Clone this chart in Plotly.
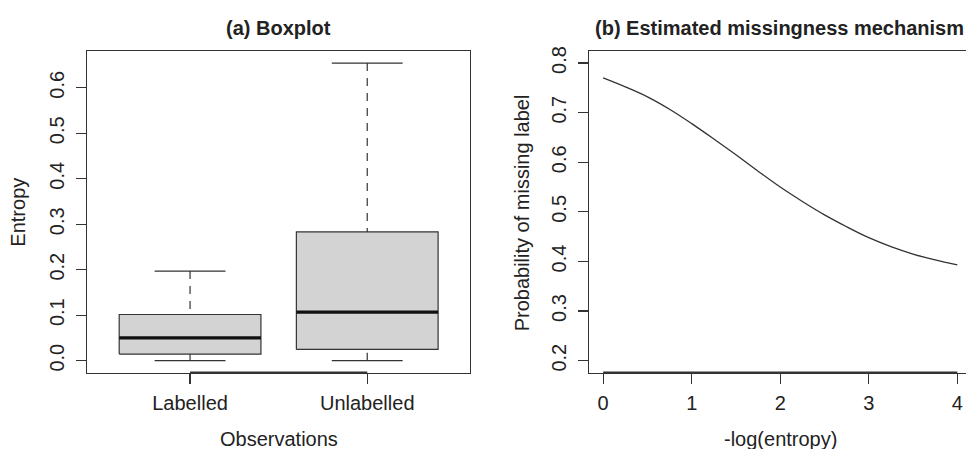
import plotly.graph_objects as go

# ---------------- data ----------------
categories = ["Labelled", "Unlabelled"]
lower_whisker = [0.0, 0.0]
q1 = [0.0145, 0.0246]
median = [0.050, 0.1066]
q3 = [0.1015, 0.283]
upper_whisker = [0.197, 0.6544]

neg_log_entropy = [0, 0.25, 0.5, 0.75, 1.0, 1.25, 1.5, 1.75, 2.0, 2.25, 2.5, 2.75,
                   3.0, 3.25, 3.5, 3.75, 4.0]
prob_missing = [0.770, 0.752, 0.732, 0.707, 0.678, 0.647, 0.615, 0.582, 0.550,
                0.521, 0.494, 0.470, 0.448, 0.430, 0.415, 0.403, 0.393]

left_yticks = [0.0, 0.1, 0.2, 0.3, 0.4, 0.5, 0.6]
right_yticks = [0.2, 0.3, 0.4, 0.5, 0.6, 0.7, 0.8]
right_xticks = [0, 1, 2, 3, 4]

# ---------------- styling ----------------
W, H = 966, 449
FONT = "Liberation Sans, Arial, sans-serif"
TXT = "#222222"
LINE = "#333333"
FS = 20
BOX_W = 0.8
CAP_W = 0.4

fig = go.Figure()

# boxplot drawn from the summary statistics
for i, cat in enumerate(categories):
    xc = i + 1
    xl, xr = xc - BOX_W / 2, xc + BOX_W / 2
    # whiskers (dashed)
    fig.add_trace(go.Scatter(x=[xc, xc], y=[upper_whisker[i], q3[i]], mode="lines",
                             line=dict(color=LINE, width=1.2, dash="8px,7px"),
                             xaxis="x", yaxis="y", showlegend=False, hoverinfo="skip"))
    fig.add_trace(go.Scatter(x=[xc, xc], y=[lower_whisker[i], q1[i]], mode="lines",
                             line=dict(color=LINE, width=1.2, dash="8px,7px"),
                             xaxis="x", yaxis="y", showlegend=False, hoverinfo="skip"))
    # caps
    for v in (lower_whisker[i], upper_whisker[i]):
        fig.add_trace(go.Scatter(x=[xc - CAP_W / 2, xc + CAP_W / 2], y=[v, v], mode="lines",
                                 line=dict(color=LINE, width=1.2),
                                 xaxis="x", yaxis="y", showlegend=False, hoverinfo="skip"))
    # box
    fig.add_trace(go.Scatter(x=[xl, xr, xr, xl, xl], y=[q1[i], q1[i], q3[i], q3[i], q1[i]],
                             mode="lines", fill="toself", fillcolor="#d3d3d3",
                             line=dict(color=LINE, width=1.2),
                             xaxis="x", yaxis="y", showlegend=False, name=cat))
    # median
    fig.add_trace(go.Scatter(x=[xl, xr], y=[median[i], median[i]], mode="lines",
                             line=dict(color="#111111", width=3.2),
                             xaxis="x", yaxis="y", showlegend=False, hoverinfo="skip"))

# estimated missingness curve
fig.add_trace(go.Scatter(x=neg_log_entropy, y=prob_missing, mode="lines",
                         line=dict(color=LINE, width=1.3, shape="spline", smoothing=1),
                         xaxis="x2", yaxis="y2", showlegend=False))

# ---------------- layout geometry (window pixels) ----------------
L1, R1 = 87.3, 470.0
L2, R2 = 589.0, 966.0
TOP, BOT = 46.7, 371.7

def px(x):
    return x / W

def py(y):
    return 1 - y / H

axis_common = dict(showgrid=False, zeroline=False, showline=True, linecolor=LINE,
                   linewidth=1.2, ticks="outside", ticklen=10, tickwidth=1.2,
                   tickcolor=LINE, tickfont=dict(family=FONT, size=FS, color=TXT))

fig.update_layout(
    width=W, height=H,
    margin=dict(l=0, r=0, t=0, b=0),
    paper_bgcolor="white", plot_bgcolor="white",
    showlegend=False,
    xaxis=dict(domain=[px(L1), px(R1)], range=[0.42, 2.58], tickvals=[1, 2],
               ticktext=categories, mirror=True, anchor="y", ticklabelstandoff=2,
               **axis_common),
    yaxis=dict(domain=[py(BOT), py(TOP)], range=[-0.0262, 0.6806], tickvals=left_yticks,
               tickformat=".1f", tickangle=-90, mirror=True, anchor="x",
               ticklabelstandoff=4, **axis_common),
    xaxis2=dict(domain=[px(L2), px(R2)], range=[-0.16, 4.098], tickvals=right_xticks,
                mirror=True, anchor="y2", ticklabelstandoff=2, **axis_common),
    yaxis2=dict(domain=[py(BOT), py(TOP)], range=[0.176, 0.824], tickvals=right_yticks,
                tickformat=".1f", tickangle=-90, mirror=False, anchor="x2",
                ticklabelstandoff=4, **axis_common),
)

# axis lines spanning the ticks (R draws them over the frame)
fig.add_shape(type="line", xref="x", yref="y domain", x0=1, x1=2, y0=0, y1=0,
              line=dict(color=LINE, width=2.2))
fig.add_shape(type="line", xref="x2", yref="y2 domain", x0=0, x1=4, y0=0, y1=0,
              line=dict(color=LINE, width=2.2))

def ann(text, x, y, size=FS, bold=False, angle=0):
    fig.add_annotation(text=f"<b>{text}</b>" if bold else text, x=px(x), y=py(y),
                       xref="paper", yref="paper", showarrow=False, textangle=angle,
                       xanchor="center", yanchor="middle",
                       font=dict(family=FONT, size=size, color=TXT))

ann("(a) Boxplot", (L1 + R1) / 2, 23.3, bold=True)
ann("(b) Estimated missingness mechanism", 779.5, 23.0, bold=True)
ann("Observations", (L1 + R1) / 2, 439)
ann("-log(entropy)", 780, 439)
ann("Entropy", 18, 210, angle=-90)
ann("Probability of missing label", 521.7, 210, angle=-90)

fig.write_html(
    "out.html",
    config={"displayModeBar": False, "staticPlot": True},
    post_script="document.body.style.margin='0px';"
                "document.body.style.overflow='hidden';",
)
